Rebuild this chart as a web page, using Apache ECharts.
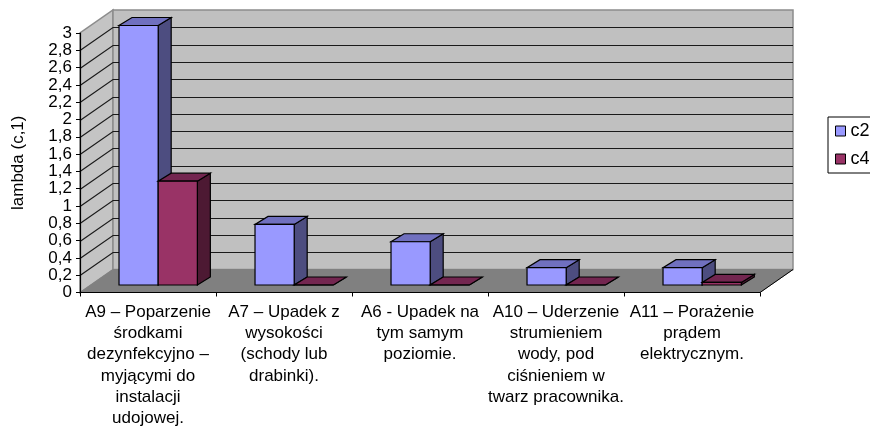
<!DOCTYPE html>
<html>
<head>
<meta charset="utf-8">
<style>
  html, body { margin: 0; padding: 0; background: #fff; overflow: hidden; }
  #chart { width: 870px; height: 426px; }
</style>
<script src="https://cdn.jsdelivr.net/npm/echarts@6/dist/echarts.min.js"></script>
</head>
<body>
<div id="chart"></div>
<script>
const categories = [
  "A9 – Poparzenie\nśrodkami\ndezynfekcyjno –\nmyjącymi do\ninstalacji\nudojowej.",
  "A7 – Upadek z\nwysokości\n(schody lub\ndrabinki).",
  "A6 - Upadek na\ntym samym\npoziomie.",
  "A10 – Uderzenie\nstrumieniem\nwody, pod\nciśnieniem w\ntwarz pracownika.",
  "A11 – Porażenie\nprądem\nelektrycznym."
];
const c2Values = [3, 0.7, 0.5, 0.2, 0.2];
const c4Values = [1.2, 0, 0, 0, 0.03];
const gridTicks = [0.2, 0.4, 0.6, 0.8, 1, 1.2, 1.4, 1.6, 1.8, 2, 2.2, 2.4, 2.6, 2.8];

// perspective offsets of the fake 3d box
const DEPTH_X = 33;
const DEPTH_Y = -23;
const BAR_DX = 13;
const BAR_DY = -8;
const BASE_DX = 11;
const BASE_DY = -7.5;

function poly(points, fill, stroke, lineWidth) {
  return {
    type: "polygon",
    shape: { points: points },
    style: { fill: fill, stroke: stroke, lineWidth: lineWidth }
  };
}

// back wall, side wall and floor
function renderWalls(params, api) {
  const band = api.size([1, 0])[0];
  const x0 = api.coord([0, 0])[0] - band / 2;
  const x1 = x0 + band * categories.length;
  const y0 = api.coord([0, 0])[1];
  const y1 = api.coord([0, 3])[1];
  return {
    type: "group",
    children: [
      poly([[x0, y0], [x0 + DEPTH_X, y0 + DEPTH_Y], [x0 + DEPTH_X, y1 + DEPTH_Y], [x0, y1]], "#C4C4C4", "#8C8C8C", 1.5),
      poly([[x0 + DEPTH_X, y0 + DEPTH_Y], [x1 + DEPTH_X, y0 + DEPTH_Y], [x1 + DEPTH_X, y1 + DEPTH_Y], [x0 + DEPTH_X, y1 + DEPTH_Y]], "#C0C0C0", "#8C8C8C", 1.5),
      poly([[x0, y0], [x1, y0], [x1 + DEPTH_X, y0 + DEPTH_Y], [x0 + DEPTH_X, y0 + DEPTH_Y]], "#808080", "#808080", 1),
      {
        type: "line",
        shape: { x1: x1, y1: y0, x2: x1 + DEPTH_X, y2: y0 + DEPTH_Y },
        style: { stroke: "#000", lineWidth: 1 }
      }
    ]
  };
}

// one tick line running along the side wall and the back wall
function renderGridLine(params, api) {
  const band = api.size([1, 0])[0];
  const x0 = api.coord([0, 0])[0] - band / 2;
  const x1 = x0 + band * categories.length;
  const y = Math.round(api.coord([0, api.value(0)])[1]) + 0.5;
  return {
    type: "polyline",
    shape: { points: [[x0, y], [x0 + DEPTH_X, y + DEPTH_Y], [x1 + DEPTH_X, y + DEPTH_Y]] },
    style: { fill: null, stroke: "#1a1a1a", lineWidth: 1.2 }
  };
}

function barRenderer(seriesPos, front, top, side) {
  return function (params, api) {
    const band = api.size([1, 0])[0];
    const barW = band * 0.288;
    const center = api.coord([api.value(0), 0]);
    const left = center[0] - band / 2 + BASE_DX + band * 0.206 + seriesPos * barW;
    const right = left + barW;
    const base = center[1] + BASE_DY;
    const yTop = api.coord([api.value(0), api.value(1)])[1] + BASE_DY;
    const style = { stroke: "#000", lineWidth: 1.2 };
    return {
      type: "group",
      children: [
        poly([[right, base], [right + BAR_DX, base + BAR_DY], [right + BAR_DX, yTop + BAR_DY], [right, yTop]], side, style.stroke, style.lineWidth),
        poly([[left, yTop], [right, yTop], [right + BAR_DX, yTop + BAR_DY], [left + BAR_DX, yTop + BAR_DY]], top, style.stroke, style.lineWidth),
        poly([[left, base], [right, base], [right, yTop], [left, yTop]], front, style.stroke, style.lineWidth)
      ]
    };
  };
}

const chart = echarts.init(document.getElementById("chart"));
chart.setOption({
  animation: false,
  textStyle: { fontFamily: "Liberation Sans, Arial, sans-serif" },
  grid: { left: 80, top: 33, width: 680, height: 259.5, outerBoundsMode: "none" },
  legend: {
    data: ["c2", "c4"],
    orient: "vertical",
    left: 828,
    top: 117,
    padding: [5, 30, 5, 7],
    itemGap: 10,
    itemWidth: 10,
    itemHeight: 10,
    itemStyle: { borderColor: "#000", borderWidth: 1 },
    icon: "rect",
    borderColor: "#000",
    borderWidth: 1,
    textStyle: { fontSize: 18, color: "#000", height: 18, lineHeight: 18 }
  },
  xAxis: {
    type: "category",
    data: categories,
    z: 5,
    axisLine: { lineStyle: { color: "#000", width: 1.2 } },
    axisTick: { show: true, length: 4, lineStyle: { color: "#000" } },
    axisLabel: {
      interval: 0,
      margin: 9,
      fontSize: 17,
      lineHeight: 21.3,
      color: "#000",
      hideOverlap: false
    }
  },
  yAxis: {
    type: "value",
    min: 0,
    max: 3,
    interval: 0.2,
    z: 5,
    name: "lambda (c,1)",
    nameLocation: "middle",
    nameGap: 53,
    nameTextStyle: { fontSize: 17, color: "#000" },
    axisLine: { show: true, lineStyle: { color: "#000", width: 1.2 } },
    axisTick: { show: true, length: 4, lineStyle: { color: "#000" } },
    axisLabel: {
      margin: 8,
      fontSize: 17,
      color: "#000",
      showMinLabel: true,
      showMaxLabel: true,
      hideOverlap: false,
      formatter: (v) => String(v).replace(".", ",")
    },
    splitLine: { show: false }
  },
  series: [
    { type: "custom", name: "walls", z: 1, silent: true, data: [[0]], renderItem: renderWalls },
    { type: "custom", name: "grid", z: 1.5, silent: true, data: gridTicks.map((v) => [v]), encode: { y: 0 }, renderItem: renderGridLine },
    {
      type: "custom", name: "c2", z: 2,
      itemStyle: { color: "#9999FF", borderColor: "#000", borderWidth: 1 },
      data: c2Values.map((v, i) => [i, v]),
      encode: { x: 0, y: 1 },
      renderItem: barRenderer(0, "#9999FF", "#7070BF", "#4D4D80")
    },
    {
      type: "custom", name: "c4", z: 3,
      itemStyle: { color: "#993366", borderColor: "#000", borderWidth: 1 },
      data: c4Values.map((v, i) => [i, v]),
      encode: { x: 0, y: 1 },
      renderItem: barRenderer(1, "#993366", "#732650", "#4D1933")
    }
  ]
});
</script>
</body>
</html>
